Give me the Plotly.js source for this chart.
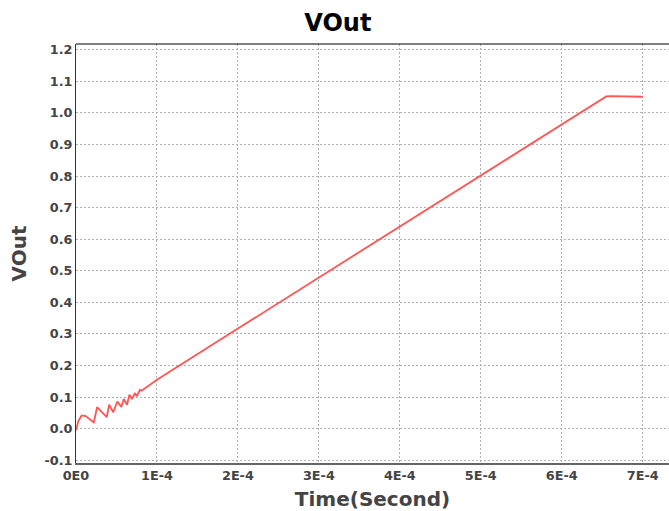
<!DOCTYPE html>
<html>
<head>
<meta charset="utf-8">
<script src="https://cdn.plot.ly/plotly-3.0.1.min.js"></script>
<style>html,body{margin:0;padding:0;background:#fff;}#chart{width:669px;height:511px;}</style>
</head>
<body>
<div id="chart"></div>
<script>
// Data
const timeSec = [0, 0.3e-5, 0.7e-5, 1.2e-5, 2.2e-5, 2.6e-5, 3.8e-5, 4.1e-5, 4.6e-5, 5.1e-5, 5.6e-5, 5.9e-5, 6.3e-5, 6.6e-5, 6.9e-5, 7.3e-5, 7.5e-5, 7.9e-5, 8.1e-5,
  1.0e-4, 2.0e-4, 3.0e-4, 4.0e-4, 5.0e-4, 6.0e-4, 6.45e-4, 6.5e-4, 6.55e-4, 6.6e-4, 6.8e-4, 7.0e-4];
const vOut = [-0.005, 0.025, 0.042, 0.040, 0.020, 0.068, 0.037, 0.076, 0.052, 0.086, 0.069, 0.094, 0.076, 0.108, 0.094, 0.113, 0.102, 0.123, 0.120,
  0.155, 0.317, 0.479, 0.641, 0.803, 0.965, 1.038, 1.046, 1.052, 1.053, 1.052, 1.051];
const xTickVals = [0, 1e-4, 2e-4, 3e-4, 4e-4, 5e-4, 6e-4, 7e-4];
const xTickText = ["0E0", "1E-4", "2E-4", "3E-4", "4E-4", "5E-4", "6E-4", "7E-4"];
const yTickVals = [-0.1, 0, 0.1, 0.2, 0.3, 0.4, 0.5, 0.6, 0.7, 0.8, 0.9, 1.0, 1.1, 1.2];
const yTickText = ["-0.1", "0.0", "0.1", "0.2", "0.3", "0.4", "0.5", "0.6", "0.7", "0.8", "0.9", "1.0", "1.1", "1.2"];

const font = "DejaVu Sans, sans-serif";
const trace = {
  x: timeSec, y: vOut, type: "scatter", mode: "lines",
  line: {color: "#ff5555", width: 1.8}, hoverinfo: "none"
};
const gridStyle = {showgrid: true, gridcolor: "#b0b0b0", griddash: "2px,2px", gridwidth: 1};
const layout = {
  width: 669, height: 511,
  margin: {l: 76, r: 0, t: 44, b: 48},
  paper_bgcolor: "#fff", plot_bgcolor: "#fff",
  showlegend: false,
  title: {text: "<b>VOut</b>", x: 0.505, xanchor: "center", y: 0.955, yanchor: "middle",
    font: {family: font, size: 24, color: "#000"}},
  xaxis: Object.assign({
    range: [0, 7.325e-4], tickvals: xTickVals, ticktext: xTickText,
    tickfont: {family: font, size: 12.8, color: "#444", weight: "bold"},
    zeroline: false, showline: true, linecolor: "#666", linewidth: 2,
    ticks: "", ticklen: 0,
    title: {text: "<b>Time(Second)</b>", standoff: 11, font: {family: font, size: 20, color: "#444"}}
  }, gridStyle),
  yaxis: Object.assign({
    range: [-0.1086, 1.218], tickvals: yTickVals, ticktext: yTickText,
    tickfont: {family: font, size: 12.8, color: "#444", weight: "bold"},
    zeroline: false, showline: true, linecolor: "#333", linewidth: 1,
    ticks: "", ticklen: 0,
    title: {text: "<b>VOut</b>", standoff: 12, font: {family: font, size: 20, color: "#444"}}
  }, gridStyle),
  shapes: [{type: "line", xref: "paper", yref: "paper", x0: 0, x1: 1, y0: 1, y1: 1,
    line: {color: "#000", width: 1}}]
};
Plotly.newPlot("chart", [trace], layout, {displayModeBar: false, staticPlot: true});
</script>
</body>
</html>
